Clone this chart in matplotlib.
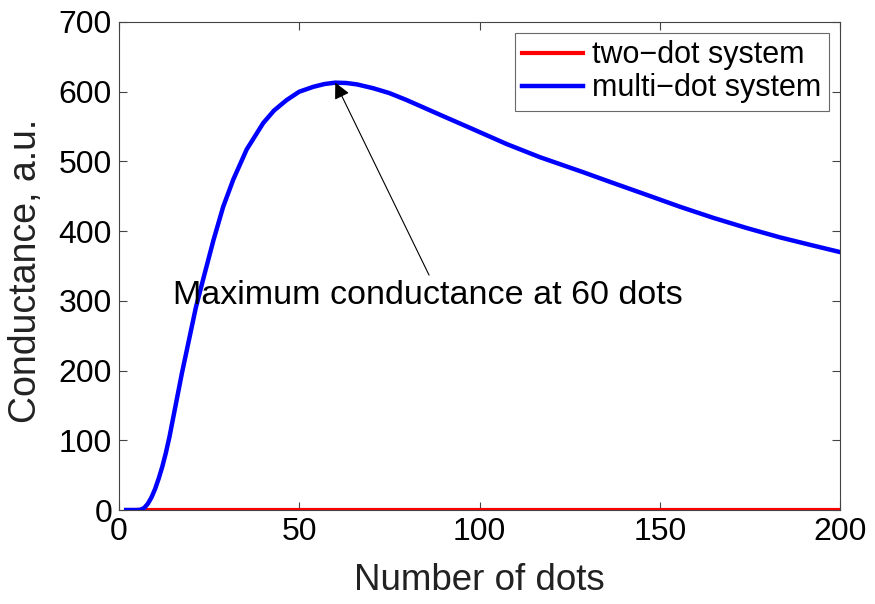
import numpy as np
import matplotlib.pyplot as plt

# values
dots_multi = [2, 3, 4, 5, 6, 7, 8, 9, 10, 11, 12, 13, 14, 17.4, 21.3, 23.4, 26.2, 28.9,
              31.7, 35.4, 40, 43, 46.5, 50, 53.9, 57, 60, 63, 66, 70.5, 75, 79.8, 89,
              98.3, 107.5, 116.8, 128.5, 137.1, 146.4, 155.6, 164.9, 174.1, 183.4,
              192, 200]
cond_multi = [0, 0, 0, 0, 0.5, 3, 9, 18, 30, 45, 62, 82, 105, 195, 290, 332, 387, 435,
              474, 517, 555, 573, 588, 600, 607, 611, 613, 612.5, 610.5, 605, 598, 588,
              567, 546, 525, 506, 485, 469, 452, 435, 419, 404.5, 391, 380, 370]

dots_two = [2, 200]
cond_two = [0, 0]

plt.rcParams['font.family'] = ['Liberation Sans', 'DejaVu Sans']

fig = plt.figure(figsize=(8.75, 6.04), dpi=100)
ax = fig.add_axes([0.136, 0.1556, 0.824, 0.808])

ax.plot(dots_two, cond_two, color='#ff0000', lw=3, label='two\u2212dot system')
ax.plot(dots_multi, cond_multi, color='#0000ff', lw=3.2, label='multi\u2212dot system',
        solid_joinstyle='round')

ax.annotate('', xy=(60, 613), xytext=(86, 337),
            arrowprops=dict(arrowstyle='-|>', color='black', lw=0.8,
                            mutation_scale=24, shrinkA=0, shrinkB=0))
ax.text(15, 307, 'Maximum conductance at 60 dots', fontsize=24.5, va='center')

ax.set_xlim(0, 200)
ax.set_ylim(0, 700)
ax.set_xticks([0, 50, 100, 150, 200])
ax.set_yticks(np.arange(0, 701, 100))
ax.tick_params(direction='in', top=True, right=True, length=6, width=0.8,
               color='#444444', labelsize=23, pad=5)
for s in ax.spines.values():
    s.set_color('#444444')
    s.set_linewidth(0.8)

ax.set_xlabel('Number of dots', fontsize=26.5, color='#222222')
ax.set_ylabel('Conductance, a.u.', fontsize=27, color='#222222')
ax.xaxis.set_label_coords(0.5, -0.108)
ax.yaxis.set_label_coords(-0.104, 0.49)

leg = ax.legend(loc='upper right', fontsize=22, frameon=True, fancybox=False,
                edgecolor='#444444', handlelength=2.0, borderaxespad=0.35,
                handletextpad=0.3, labelspacing=0.1, borderpad=0.25)
leg.get_frame().set_linewidth(0.8)

fig.savefig('out.png', dpi=100)
